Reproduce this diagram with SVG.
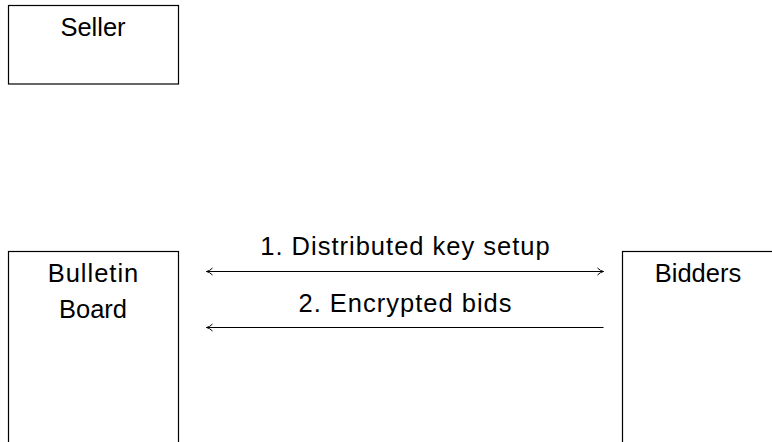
<svg xmlns="http://www.w3.org/2000/svg" width="772" height="442" viewBox="0 0 772 442">
<style>
.box{fill:#fff;stroke:#000;stroke-width:1.2}
.t{font-family:"Liberation Sans",Arial,sans-serif;font-size:25.5px;fill:#000;text-anchor:middle}
.ls{letter-spacing:1px}
.c{stroke:#000;stroke-width:1;fill:none}
</style>
<defs>
<marker id="ah" viewBox="0 0 10 10" refX="9" refY="5" markerWidth="10" markerHeight="10" markerUnits="userSpaceOnUse" orient="auto-start-reverse">
<path d="M3,1.5 Q6,4.5 9,5 Q6,5.5 3,8.5" fill="none" stroke="#000" stroke-width="1"/>
</marker>
</defs>
<rect width="772" height="442" fill="#fff"/>
<g id="seller">
<rect class="box" x="8.5" y="5.5" width="170" height="78.5"/>
<text class="t" x="93" y="36">Seller</text>
</g>
<g id="bulletin-board">
<rect class="box" x="8.5" y="251.5" width="170" height="200"/>
<text class="t ls" x="93.5" y="281.5">Bulletin</text>
<text class="t" x="93" y="318">Board</text>
</g>
<g id="bidders">
<rect class="box" x="622.5" y="251.5" width="170" height="200"/>
<text class="t" x="698" y="281.5">Bidders</text>
</g>
<g id="connectors">
<line class="c" x1="206.5" y1="271.5" x2="603.5" y2="271.5" marker-start="url(#ah)" marker-end="url(#ah)"/>
<text class="t ls" x="405.5" y="255">1. Distributed key setup</text>
<line class="c" x1="603.5" y1="327.5" x2="206.5" y2="327.5" marker-end="url(#ah)"/>
<text class="t ls" x="405.5" y="311.5">2. Encrypted bids</text>
</g>
</svg>
